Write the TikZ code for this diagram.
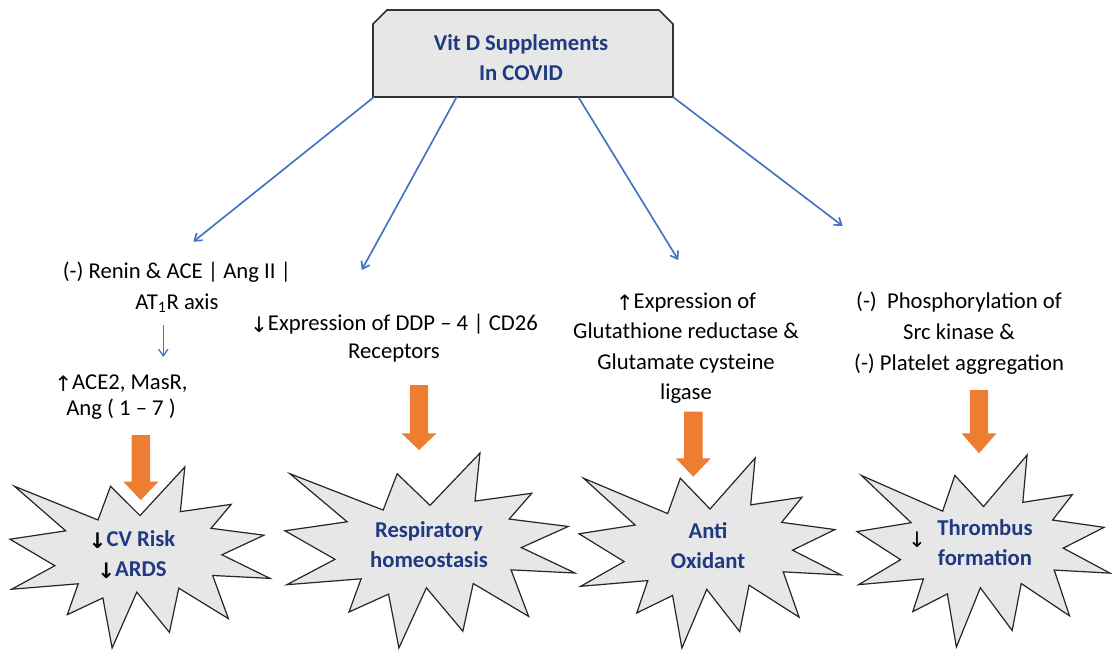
\documentclass[tikz,border=0pt]{standalone}
\usepackage{fontspec}
\setmainfont{Carlito}
\newfontfamily\arrfont{DejaVu Sans}
\usetikzlibrary{arrows.meta}
\definecolor{bluel}{HTML}{4472C4}
\definecolor{orng}{HTML}{ED7D31}
\definecolor{grayfill}{HTML}{E7E7E7}
\definecolor{navy}{HTML}{1F3A82}
\newcommand\dn{{\arrfont\fontsize{16}{16}\selectfont\raisebox{-1.5pt}{↓}}}
\newcommand\up{{\arrfont\fontsize{16}{16}\selectfont\raisebox{-1.5pt}{↑}}}
\newcommand\boomshape[5]{%
  \path[boom] ({#2+0.5*#4},{#3+0.2685*#5}) -- ({#2+0.6723*#4},{#3}) --
   ({#2+0.6553*#4},{#3+0.2465*#5}) -- ({#2+0.8509*#4},{#3+0.2063*#5}) --
   ({#2+0.7732*#4},{#3+0.3387*#5}) -- ({#2+0.9767*#4},{#3+0.3767*#5}) --
   ({#2+0.8151*#4},{#3+0.4850*#5}) -- ({#2+#4},{#3+0.6153*#5}) --
   ({#2+0.7795*#4},{#3+0.5992*#5}) -- ({#2+0.8400*#4},{#3+0.8377*#5}) --
   ({#2+0.6491*#4},{#3+0.6693*#5}) -- ({#2+0.6133*#4},{#3+0.9138*#5}) --
   ({#2+0.4876*#4},{#3+0.6914*#5}) -- ({#2+0.3928*#4},{#3+#5}) --
   ({#2+0.3572*#4},{#3+0.7235*#5}) -- ({#2+0.2205*#4},{#3+0.8156*#5}) --
   ({#2+0.2624*#4},{#3+0.6452*#5}) -- ({#2+0.00625*#4},{#3+0.6753*#5}) --
   ({#2+0.1723*#4},{#3+0.5451*#5}) -- ({#2},{#3+0.3988*#5}) --
   ({#2+0.2142*#4},{#3+0.3526*#5}) -- ({#2+0.0171*#4},{#3+0.1063*#5}) --
   ({#2+0.3385*#4},{#3+0.2926*#5}) -- ({#2+0.3867*#4},{#3+0.1063*#5}) -- cycle;
  \coordinate (#1) at ({#2+0.5*#4},{#3+0.5*#5});}
\newcommand\blockarr[4]{%
  \fill[orng] ({#1-9.2},#2) -- ({#1+9.2},#2) -- ({#1+9.2},#3) -- ({#1+17.5},#3) --
   (#1,#4) -- ({#1-17.5},#3) -- ({#1-9.2},#3) -- cycle;}
\tikzset{
  txt/.style={font=\fontsize{17}{23.25}\selectfont, align=center, inner sep=0pt, text=black},
  btxt/.style={font=\bfseries\fontsize{17}{22.5}\selectfont, align=center, inner sep=0pt, text=navy},
  blueline/.style={draw=bluel, line width=1.25pt, -{Straight Barb[length=5pt,width=7pt]}},
  boom/.style={fill=grayfill, draw=black!85, line width=0.9pt, line join=miter},
  titlebox/.style={fill=grayfill, draw=black!80, line width=1.3pt},
}
\begin{document}
\begin{tikzpicture}[x=0.75pt,y=-0.75pt]
\useasboundingbox (0,0) rectangle (1112,651);
% title
\path[titlebox] (373,24) -- (387,10) -- (659,10) -- (673,24) -- (673,97) -- (373,97) -- cycle;
\node[btxt] (title) at (521,58) {Vit D Supplements\\In COVID};
\coordinate (s1) at (374,97);
\coordinate (s2) at (456.7,97);
\coordinate (s3) at (578.3,97);
\coordinate (s4) at (673,97);
% text blocks
\node[txt] (t1) at (177,287) {(-) Renin \& ACE | Ang II |\\AT\textsubscript{1}R axis};
\node[txt, font=\fontsize{17}{19.5}\selectfont] (t1b) at (121,397) {\up ACE2, MasR,\\Ang ( 1 – 7 )};
\node[txt, font=\fontsize{17}{21.3}\selectfont] (t2) at (394,338) {\dn Expression of DDP – 4 | CD26\\Receptors};
\node[txt, font=\fontsize{17}{22.9}\selectfont] (t3) at (686,348) {\up Expression of\\Glutathione reductase \&\\Glutamate cysteine\\ligase};
\node[txt, font=\fontsize{17}{23.1}\selectfont] (t4) at (959,333) {(-)~ Phosphorylation of\\Src kinase \&\\(-) Platelet aggregation};
\coordinate (a1) at (193.3,241.7);
\coordinate (a2) at (361.7,270);
\coordinate (a3) at (678.3,260);
\coordinate (a4) at (842.7,226);
\coordinate (m1) at (163.3,325);
\coordinate (m2) at (163.3,357);
\draw[blueline] (s1) -- (a1);
\draw[blueline] (s2) -- (a2);
\draw[blueline] (s3) -- (a3);
\draw[blueline] (s4) -- (a4);
\draw[blueline, line width=1pt] (m1) -- (m2);
% explosions
\boomshape{e1}{10}{467}{260}{181}
\boomshape{e2}{285}{453}{290}{195}
\boomshape{e3}{579}{458}{262}{190}
\boomshape{e4}{857}{455}{253}{192}
% orange arrows
\blockarr{140.8}{435}{481.7}{500}
\blockarr{419}{385}{433.3}{450}
\blockarr{693.3}{411.7}{458.3}{476.7}
\blockarr{979}{390}{433.3}{453.3}
% explosion texts
\node[btxt] (x1) at (132,555) {{\color{black}\dn}CV Risk\\{\color{black}\dn}ARDS};
\node[btxt] (x2) at (429,545) {Respiratory\\homeostasis};
\node[btxt] (x3) at (708,546) {Anti\\Oxidant};
\node[btxt] (x4) at (985,542.5) {Thrombus\\formation};
\node[inner sep=0pt] (x4a) at (917,540) {\dn};
\end{tikzpicture}
\end{document}
